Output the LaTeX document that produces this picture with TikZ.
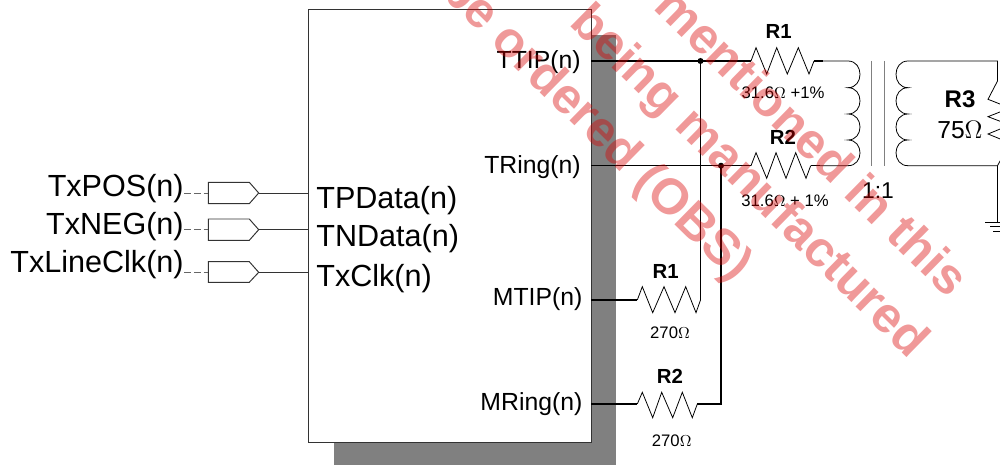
\documentclass[tikz,border=0pt]{standalone}
\usepackage{fontspec}
\setmainfont{Liberation Sans}
\usepackage{tikz}
\tikzset{
  wire/.style={line width=0.9pt, black},
  thinwire/.style={line width=0.45pt, black},
  boxline/.style={line width=0.55pt, draw=black!80},
  dashline/.style={line width=0.5pt, draw=black!60, dash pattern=on 3.8pt off 1.8pt},
  extlabel/.style={anchor=base east, inner sep=0pt, font=\fontsize{17.4}{20}\selectfont},
  inlabel/.style={anchor=base west, inner sep=0pt, font=\fontsize{17.4}{20}\selectfont},
  pinlabel/.style={anchor=base east, inner sep=0pt, font=\fontsize{14.1}{16}\selectfont},
  resname/.style={anchor=base, inner sep=0pt, font=\fontsize{11.6}{13}\selectfont\bfseries},
  resvalue/.style={anchor=base, inner sep=0pt, font=\fontsize{9.5}{11}\selectfont},
  watermark/.style={anchor=base west, inner sep=0pt, rotate=-44.5, text=red!85!black, text opacity=0.4, font=\fontsize{28.5}{30}\selectfont\bfseries}
}
\begin{document}
\begin{tikzpicture}[x=0.02cm, y=-0.02cm]
\useasboundingbox (0,0) rectangle (1000,465);
\clip (0,0) rectangle (1000,465);

% Drawing device box
\fill[fill=black!50] (334,35) rectangle (616,470);
\draw[boxline, fill=white] (308,9) rectangle (591,442);

% Drawing pin coordinates
\coordinate (ttip) at (591,61);
\coordinate (tring) at (591,165.7);
\coordinate (mtip) at (591,300);
\coordinate (mring) at (591,404);
\coordinate (ttipdot) at (700.5,61);
\coordinate (tringdot) at (721,165.7);
\coordinate (mtipend) at (700.5,300);
\coordinate (mringend) at (721,404);

% Drawing input buffers
\draw[boxline] (208.3,182.3) -- (249.3,182.3) -- (258.7,193) -- (249.3,203.7) -- (208.3,203.7) -- cycle;
\draw[boxline] (208.3,219) -- (249.3,219) -- (258.7,229.7) -- (249.3,240.3) -- (208.3,240.3) -- cycle;
\draw[boxline] (208.3,261.7) -- (249.3,261.7) -- (258.7,272.3) -- (249.3,282.3) -- (208.3,282.3) -- cycle;
\coordinate (posin) at (208.3,193);
\coordinate (negin) at (208.3,229.7);
\coordinate (clkin) at (208.3,272.3);
\coordinate (posout) at (258.7,193);
\coordinate (negout) at (258.7,229.7);
\coordinate (clkout) at (258.7,272.3);
\coordinate (posfar) at (184,193);
\coordinate (negfar) at (184,229.7);
\coordinate (clkfar) at (184,272.3);
\coordinate (tpdata) at (308,193);
\coordinate (tndata) at (308,229.7);
\coordinate (txclk) at (308,272.3);
\draw[boxline] (posout) -- (tpdata);
\draw[boxline] (negout) -- (tndata);
\draw[boxline] (clkout) -- (txclk);
\draw[dashline] (posfar) -- (posin);
\draw[dashline] (negfar) -- (negin);
\draw[dashline] (clkfar) -- (clkin);

% Drawing resistors on the left
\coordinate (r1a) at (751,61);
\coordinate (r1b) at (814,61);
\coordinate (r1c) at (823,61);
\coordinate (r2a) at (751,165.7);
\coordinate (r2b) at (810.7,165.7);
\coordinate (r2c) at (820,165.7);
\coordinate (r3a) at (637.3,300);
\coordinate (r4a) at (637.3,404);
\coordinate (r4b) at (697.3,404);
\draw[thinwire] (r1a) -- (756,47.7) -- (766.7,74) -- (776.7,47.7) -- (787.3,74) -- (798.3,47.7) -- (809,74) -- (r1b);
\draw[thinwire] (r2a) -- (756,152.7) -- (766.7,178.3) -- (776,152.7) -- (786,178.3) -- (795.7,152.7) -- (806,178.3) -- (r2b);
\draw[thinwire] (r3a) -- (642.3,286.7) -- (652.7,312.7) -- (664,286.7) -- (675,312.7) -- (685.7,286.7) -- (696,312.7) -- (mtipend);
\draw[thinwire] (r4a) -- (642.3,392.3) -- (652.7,417.7) -- (661.7,392.3) -- (672.7,417.7) -- (682.3,392.3) -- (692.3,417.7) -- (r4b);

% Drawing wires
\draw[wire] (ttip) -- (r1a);
\draw[wire] (tring) -- (r2a);
\draw[wire] (mtip) -- (r3a);
\draw[wire] (mring) -- (r4a);
\draw[wire] (ttipdot) -- (mtipend);
\draw[wire] (tringdot) -- (mringend) -- (r4b);
\draw[wire] (r1b) -- (r1c);
\draw[wire] (r2b) -- (r2c);
\fill (ttipdot) circle (3);
\fill (tringdot) circle (3);

% Drawing transformer
\coordinate (coil1a) at (848,61);
\coordinate (coil1b) at (848,165.7);
\coordinate (coil2a) at (908,61);
\coordinate (coil2b) at (908,165.7);
\draw[thinwire] (r1c) -- (coil1a) .. controls (864,61) and (864,87.7) .. (848,87.7) .. controls (864,87.7) and (864,114) .. (848,114) .. controls (864,114) and (864,140) .. (848,140) .. controls (864,140) and (864,165.7) .. (coil1b) -- (r2c);
\draw[thinwire] (coil2a) .. controls (892,61) and (892,87.7) .. (908,87.7) .. controls (892,87.7) and (892,114) .. (908,114) .. controls (892,114) and (892,140) .. (908,140) .. controls (892,140) and (892,165.7) .. (coil2b);
\draw[line width=0.6pt, black!50] (871.7,61) -- (871.7,165.7);
\draw[line width=0.6pt, black!50] (884.7,61) -- (884.7,165.7);

% Drawing load and ground
\coordinate (r3top) at (997.5,61);
\coordinate (r3bot) at (997.5,165.7);
\coordinate (gnd) at (997.5,222);
\draw[thinwire] (coil2a) -- (r3top) -- (997.5,81) -- (988,99.3) -- (1010,108) -- (988,116.7) -- (1010,125) -- (988,134) -- (1010,143) -- (r3bot) -- (coil2b);
\draw[thinwire] (r3bot) -- (gnd);
\draw[thinwire] (985,222) -- (1000,222);
\draw[thinwire] (990,226.7) -- (1000,226.7);
\draw[thinwire] (993,231) -- (1000,231);

% Drawing labels
\node[extlabel] (txpos) at (184,196.7) {TxPOS(n)};
\node[extlabel] (txneg) at (184,234.5) {TxNEG(n)};
\node[extlabel] (txlineclk) at (184,272.5) {TxLineClk(n)};
\node[inlabel] (tpdatalabel) at (316,209) {TPData(n)};
\node[inlabel] (tndatalabel) at (316,247) {TNData(n)};
\node[inlabel] (txclklabel) at (316,287) {TxClk(n)};
\node[pinlabel] (ttiplabel) at (581,68.3) {TTIP(n)};
\node[pinlabel] (tringlabel) at (581,173.3) {TRing(n)};
\node[pinlabel] (mtiplabel) at (582.7,305.7) {MTIP(n)};
\node[pinlabel] (mringlabel) at (582.7,411) {MRing(n)};
\node[resname] (r1name) at (778.7,39) {R1};
\node[resvalue] (r1value) at (783,98.7) {31.6$\Omega$ +1\%};
\node[resname] (r2name) at (783,144.3) {R2};
\node[resvalue] (r2value) at (785,206.7) {31.6$\Omega$ + 1\%};
\node[resname] (r3name) at (665.7,278.3) {R1};
\node[resvalue] (r3value) at (670,338.3) {270$\Omega$};
\node[resname] (r4name) at (670,384) {R2};
\node[resvalue] (r4value) at (671.7,446) {270$\Omega$};
\node[anchor=base, inner sep=0pt, font=\fontsize{13}{15}\selectfont] (ratio) at (878,199) {1:1};
\node[anchor=base, inner sep=0pt, font=\fontsize{13.7}{16}\selectfont\bfseries] (loadname) at (960,107.7) {R3};
\node[anchor=base, inner sep=0pt, font=\fontsize{14}{16}\selectfont] (loadvalue) at (960,139) {75$\Omega$};

% Drawing watermark
\node[watermark] (markone) at (652,8) {mentioned in this};
\node[watermark] (marktwo) at (568,24) {being manufactured};
\node[watermark] (markthree) at (438,-8) {be ordered (OBS)};
\end{tikzpicture}
\end{document}
